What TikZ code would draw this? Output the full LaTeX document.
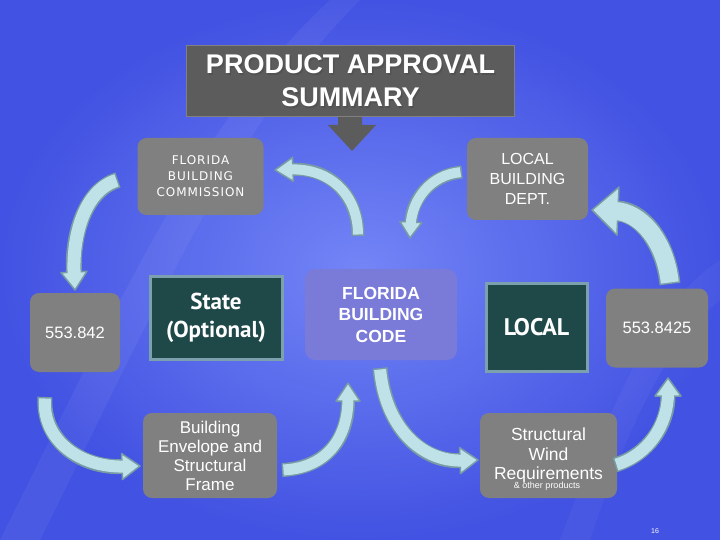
\documentclass[tikz,border=0pt]{standalone}
\usepackage{fontspec}
\setmainfont{Liberation Sans}
\newfontfamily\dvs{DejaVu Sans}[LetterSpace=8]
\newfontfamily\ptsans{PT Sans}
\usetikzlibrary{calc}
\definecolor{boxgray}{RGB}{128,128,128}
\definecolor{arrowfill}{RGB}{190,226,232}
\definecolor{arrowedge}{RGB}{120,155,165}
\definecolor{statebox}{RGB}{31,72,72}
\definecolor{stateedge}{RGB}{125,160,175}
\definecolor{fbccol}{RGB}{122,122,216}
\definecolor{bginner}{RGB}{115,133,246}
\definecolor{bgouter}{RGB}{66,82,226}
\definecolor{titlegray}{RGB}{92,92,92}
\definecolor{titleedge}{RGB}{128,128,128}
\newcommand\cycarrow[9]{%
  \coordinate (ab) at ($(#4)!#7!(#3)$);
  \coordinate (ai) at ($(#4)!#8!(#3)$);
  \draw[line width=#5, draw=arrowedge] (#1) .. controls (#2) and (#3) .. (ab);
  \filldraw[fill=arrowfill, draw=arrowedge, line width=1.5pt, line join=round]
    ($(ab)!#9/2!90:(#4)$) -- (#4) -- ($(ab)!#9/2!-90:(#4)$) -- cycle;
  \draw[line width=#6, draw=arrowfill, shorten <=1.5pt] (#1) .. controls (#2) and (#3) .. (ai);
}
\tikzset{
  graybox/.style={fill=boxgray, rounded corners=9pt, text=white, align=center, inner sep=0pt},
  darkbox/.style={fill=statebox, draw=stateedge, line width=3pt, text=white, align=center, inner sep=0pt},
}
\begin{document}
\begin{tikzpicture}[x=1pt,y=-1pt]
\useasboundingbox (0,0) rectangle (720,540);
\shade[inner color=bginner, outer color=bgouter] (0,0) rectangle (720,540);
\fill[white, opacity=0.05] (0,540) .. controls (120,300) and (200,120) .. (330,0) -- (360,0) .. controls (230,130) and (150,320) .. (40,540) -- cycle;
\fill[white, opacity=0.04] (560,540) .. controls (620,380) and (660,300) .. (720,260) -- (720,300) .. controls (670,340) and (630,420) .. (590,540) -- cycle;

% title
\fill[titlegray] (338,110) -- (362,110) -- (362,125) -- (376,125) -- (352,151) -- (328,125) -- (338,125) -- cycle;
\node[fill=titlegray, draw=titleedge, line width=1.5pt, minimum width=328, minimum height=71, inner sep=0pt] (title) at (350.5,81) {};
\node[text=black!70, opacity=0.6, align=center, inner sep=0pt, font={\bfseries\fontsize{27}{33}\selectfont}] (titleshadow) at (352,82.5) {PRODUCT APPROVAL\\SUMMARY};
\node[text=white, align=center, inner sep=0pt, font={\bfseries\fontsize{27}{33}\selectfont}] (titletext) at (title.center) {PRODUCT APPROVAL\\SUMMARY};

% boxes
\node[graybox, minimum width=126, minimum height=77, font={\dvs\fontsize{12}{16}\selectfont}] (fbcom) at (200.5,176.5) {FLORIDA\\BUILDING\\COMMISSION};
\node[graybox, minimum width=121, minimum height=82, font={\fontsize{16}{20}\selectfont}] (lbd) at (527.5,179) {LOCAL\\BUILDING\\DEPT.};
\node[graybox, minimum width=90, minimum height=79, font={\fontsize{16.5}{20}\selectfont}] (s842) at (75,332.5) {553.842};
\node[darkbox, minimum width=132, minimum height=83, font={\ptsans\bfseries\fontsize{23}{28}\selectfont}] (state) at (216,318) {State\\(Optional)};
\node[fill=fbccol, rounded corners=10pt, text=white, align=center, inner sep=0pt, minimum width=152, minimum height=91, font={\bfseries\fontsize{17.5}{21.5}\selectfont}] (fbc) at (381,314.5) {FLORIDA\\BUILDING\\CODE};
\node[darkbox, minimum width=101, minimum height=88, font={\ptsans\bfseries\fontsize{24}{28}\selectfont}] (local) at (536.5,327) {LOCAL};
\node[graybox, minimum width=102, minimum height=79, font={\fontsize{16.5}{20}\selectfont}] (s8425) at (657,328) {553.8425};
\node[graybox, minimum width=134, minimum height=85, font={\fontsize{17}{19}\selectfont}] (bef) at (210,455.5) {Building\\Envelope and\\Structural\\Frame};
\node[graybox, minimum width=137, minimum height=85, font={\fontsize{17.5}{19.5}\selectfont}] (swr) at (548.5,455.5) {Structural\\Wind\\Requirements};
\node[text=white, inner sep=0pt, font={\fontsize{9}{10}\selectfont}] (other) at (547,486) {\& other products};
\node[text=white, inner sep=0pt, font={\fontsize{7}{8}\selectfont}] (pnum) at (655,531) {16};

% cycle arrows
\coordinate (aS) at (118,180); \coordinate (aC1) at (85,190); \coordinate (aC2) at (72,235); \coordinate (aT) at (75,290);
\cycarrow{aS}{aC1}{aC2}{aT}{16pt}{13pt}{18pt}{15pt}{26pt}
\coordinate (bS) at (358,236); \coordinate (bC1) at (358,195); \coordinate (bC2) at (330,168); \coordinate (bT) at (275,170);
\cycarrow{bS}{bC1}{bC2}{bT}{13pt}{10pt}{18pt}{15pt}{24pt}
\coordinate (cS) at (462,172); \coordinate (cC1) at (430,175); \coordinate (cC2) at (412,200); \coordinate (cT) at (410,238);
\cycarrow{cS}{cC1}{cC2}{cT}{13pt}{10pt}{16pt}{13pt}{22pt}
\coordinate (dS) at (670,284); \coordinate (dC1) at (665,240); \coordinate (dC2) at (640,212); \coordinate (dT) at (592,210);
\cycarrow{dS}{dC1}{dC2}{dT}{21pt}{18pt}{26pt}{23pt}{48pt}
\coordinate (eS) at (45,397); \coordinate (eC1) at (42,440); \coordinate (eC2) at (80,468); \coordinate (eT) at (140,466);
\cycarrow{eS}{eC1}{eC2}{eT}{15pt}{12pt}{18pt}{15pt}{26pt}
\coordinate (fS) at (282,470); \coordinate (fC1) at (325,468); \coordinate (fC2) at (348,440); \coordinate (fT) at (348,383);
\cycarrow{fS}{fC1}{fC2}{fT}{14pt}{11pt}{18pt}{15pt}{24pt}
\coordinate (gS) at (380,368); \coordinate (gC1) at (385,425); \coordinate (gC2) at (420,462); \coordinate (gT) at (478,460);
\cycarrow{gS}{gC1}{gC2}{gT}{15pt}{12pt}{18pt}{15pt}{26pt}
\coordinate (hS) at (615,465); \coordinate (hC1) at (648,455); \coordinate (hC2) at (668,425); \coordinate (hT) at (668,378);
\cycarrow{hS}{hC1}{hC2}{hT}{15pt}{12pt}{18pt}{15pt}{26pt}
\end{tikzpicture}
\end{document}
